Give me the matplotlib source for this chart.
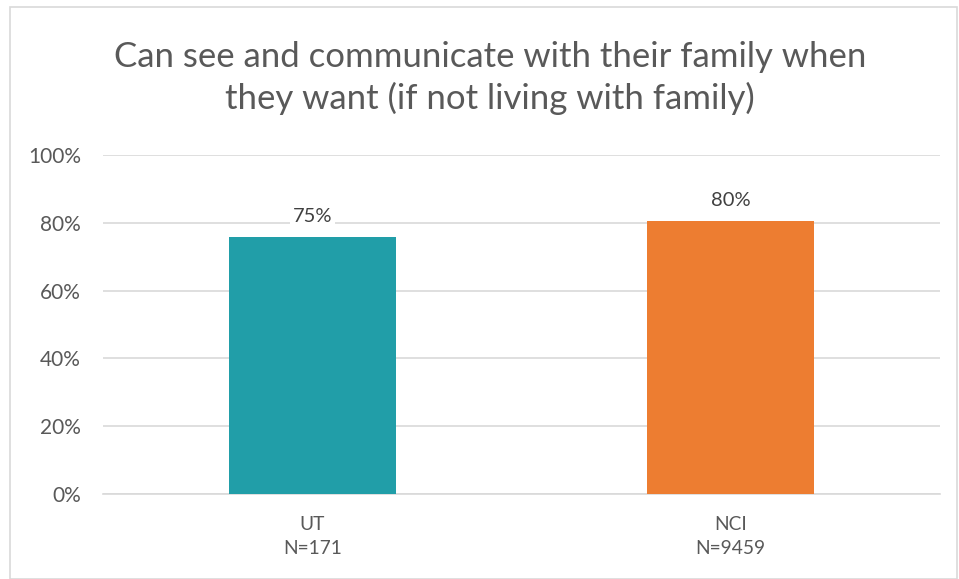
import matplotlib
matplotlib.use("Agg")
import matplotlib.pyplot as plt
from matplotlib.patches import Rectangle

categories = ["UT\nN=171", "NCI\nN=9459"]
values = [0.758, 0.805]
value_labels = ["75%", "80%"]
colors = ["#219EA8", "#ED7D31"]
title = "Can see and communicate with their family when\nthey want (if not living with family)"
yticks = [0, 0.2, 0.4, 0.6, 0.8, 1.0]
ytick_labels = ["0%", "20%", "40%", "60%", "80%", "100%"]

plt.rcParams['font.family'] = ['Lato', 'DejaVu Sans']

fig = plt.figure(figsize=(9.59, 5.79), dpi=100)
fig.patch.set_facecolor("white")
fig.add_artist(Rectangle((10/959, 0), (957-10)/959, 1 - 7/579, transform=fig.transFigure,
                         fill=False, edgecolor="#d9d9d9", linewidth=1.2))

ax = fig.add_axes([103/959, 1 - 494/579, (940-103)/959, (494-155)/579])
x = range(len(categories))
bars = ax.bar(x, values, width=0.4, color=colors, zorder=3)
ax.set_xlim(-0.5, 1.5)
ax.set_ylim(0, 1.0)
ax.set_yticks(yticks)
ax.set_yticklabels(ytick_labels, fontsize=15, color="#595959")
ax.set_xticks(list(x))
ax.set_xticklabels(categories, fontsize=13.8, color="#595959", linespacing=1.5)
ax.tick_params(axis="both", length=0)
ax.tick_params(axis="y", pad=16)
ax.tick_params(axis="x", pad=16)
ax.grid(axis="y", color="#d9d9d9", linewidth=1.2, zorder=0)
for s in ["top", "right", "left"]:
    ax.spines[s].set_visible(False)
ax.spines["bottom"].set_color("#d9d9d9")
ax.spines["bottom"].set_linewidth(1.2)

for b, lab in zip(bars, value_labels):
    ax.annotate(lab, (b.get_x() + b.get_width()/2, b.get_height()),
                xytext=(0, 9), textcoords="offset points", ha="center", va="bottom",
                fontsize=14.5, color="#404040", zorder=4,
                bbox=dict(facecolor="white", edgecolor="none", pad=2))

fig.text(490/959, 1 - 78/579, title, ha="center", va="center", fontsize=25,
         color="#595959", linespacing=1.36)

fig.savefig("out.png", dpi=100, facecolor="white")
